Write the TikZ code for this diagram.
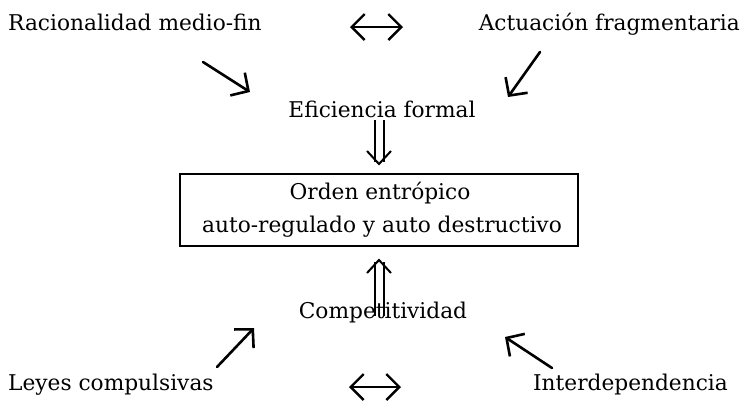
\documentclass[tikz,border=0pt]{standalone}
\usepackage{fontspec}
\setmainfont{DejaVu Serif}
\usetikzlibrary{arrows.meta,calc}
\begin{document}
\begin{tikzpicture}[x=1pt,y=-1pt,
  every node/.style={font=\fontsize{21.7}{26}\selectfont, inner sep=0pt},
  arw/.style={line width=2.6pt, line cap=round, -{Straight Barb[length=13pt,width=27pt,line width=2.6pt]}},
  harw/.style={line width=2.4pt, {Straight Barb[length=13pt,width=26pt,line width=2.4pt]}-{Straight Barb[length=13pt,width=26pt,line width=2.4pt]}},
  dl/.style={line width=2pt},
  boxst/.style={draw, line width=2pt, minimum width=398pt, minimum height=72pt}
]
\useasboundingbox (0,0) rectangle (745,408);
% texts
\node[anchor=base west] (rac) at (8,30) {Racionalidad medio-fin};
\node[anchor=base east] (act) at (740,30) {Actuación fragmentaria};
\node[anchor=base] (efi) at (382,117) {Eficiencia formal};
\node[boxst] (box) at (379,210) {};
\node[anchor=base] (or1) at (380,199) {Orden entrópico};
\node[anchor=base] (or2) at (382,232) {auto-regulado y auto destructivo};
\node[anchor=base] (comp) at (383,318) {Competitividad};
\node[anchor=base west] (ley) at (8,390) {Leyes compulsivas};
\node[anchor=base east] (inter) at (728,390) {Interdependencia};
% horizontal double-headed arrows
\coordinate (ht1) at (350,27);
\coordinate (ht2) at (403,27);
\draw[harw] (ht1) -- (ht2);
\coordinate (hb1) at (349,387);
\coordinate (hb2) at (401,387);
\draw[harw] (hb1) -- (hb2);
% diagonal arrows
\coordinate (a1s) at (203,62); \coordinate (a1e) at (250,92);
\coordinate (a2s) at (540,52); \coordinate (a2e) at (508,97);
\coordinate (a3s) at (217,367); \coordinate (a3e) at (254,328);
\coordinate (a4s) at (552,368); \coordinate (a4e) at (505,337);
\draw[arw] (a1s) -- (a1e);
\draw[arw] (a2s) -- (a2e);
\draw[arw] (a3s) -- (a3e);
\draw[arw] (a4s) -- (a4e);
% double arrow down (Eficiencia -> box)
\coordinate (dtip) at ($(box.north)+(0,-9)$);
\draw[dl] ($(dtip)+(-4.5,-44)$) -- ($(dtip)+(-4.5,-2)$);
\draw[dl] ($(dtip)+(4.5,-44)$) -- ($(dtip)+(4.5,-2)$);
\draw[dl, line join=miter] ($(dtip)+(-12,-13)$) -- (dtip) -- ($(dtip)+(12,-13)$);
% double arrow up (Competitividad -> box)
\coordinate (utip) at ($(box.south)+(0,13)$);
\draw[dl] ($(utip)+(-4.5,56)$) -- ($(utip)+(-4.5,2)$);
\draw[dl] ($(utip)+(4.5,56)$) -- ($(utip)+(4.5,2)$);
\draw[dl, line join=miter] ($(utip)+(-12,13)$) -- (utip) -- ($(utip)+(12,13)$);
\end{tikzpicture}
\end{document}
